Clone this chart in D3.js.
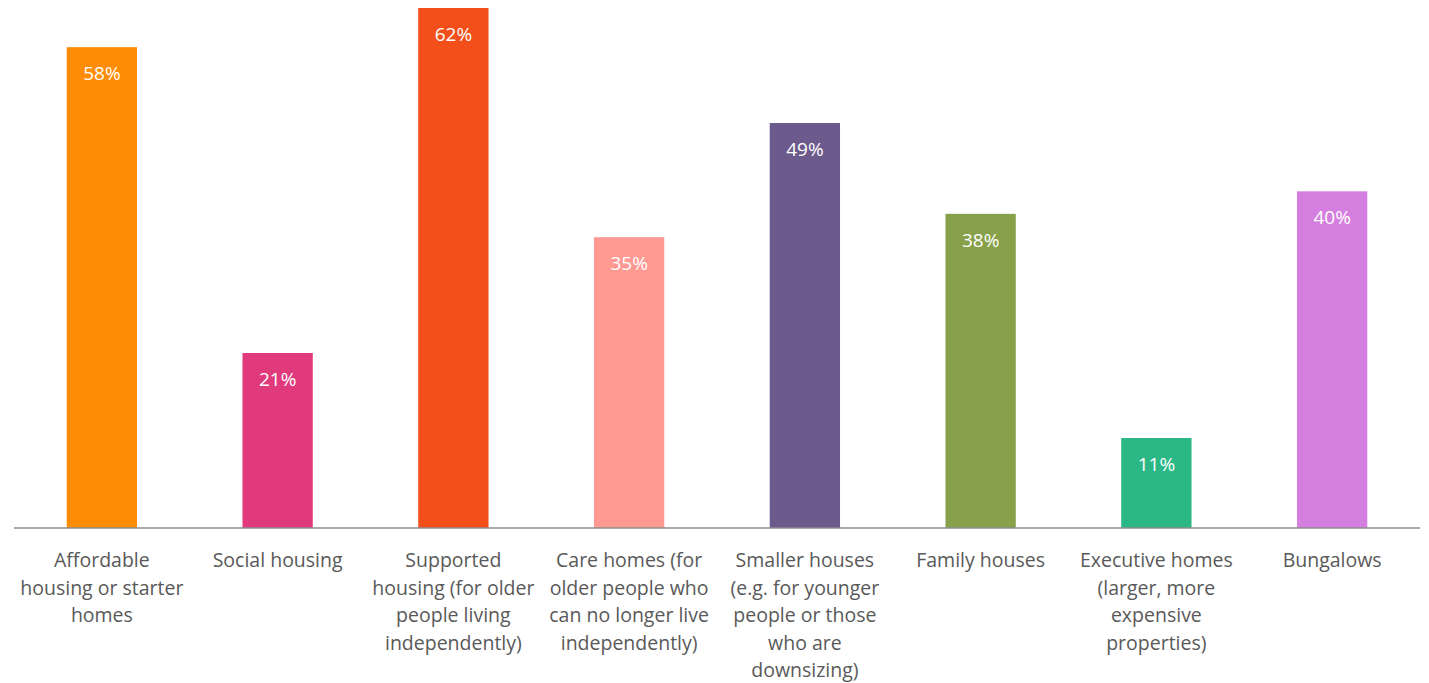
<!DOCTYPE html>
<html>
<head>
<meta charset="utf-8">
<script src="https://cdn.jsdelivr.net/npm/d3@7"></script>
<style>
  html, body { margin: 0; padding: 0; background: #fff; }
</style>
</head>
<body>
<div id="chart"></div>
<script>
// Data.
const categories = [
  "Affordable housing or starter homes",
  "Social housing",
  "Supported housing (for older people living independently)",
  "Care homes (for older people who can no longer live independently)",
  "Smaller houses (e.g. for younger people or those who are downsizing)",
  "Family houses",
  "Executive homes (larger, more expensive properties)",
  "Bungalows",
];
const values = [57.7, 21.0, 62.4, 34.9, 48.6, 37.7, 10.8, 40.4];
const valueLabels = ["58%", "21%", "62%", "35%", "49%", "38%", "11%", "40%"];
// Manual line breaks, as in the original labels.
const categoryLines = [
  ["Affordable", "housing or starter", "homes"],
  ["Social housing"],
  ["Supported", "housing (for older", "people living", "independently)"],
  ["Care homes (for", "older people who", "can no longer live", "independently)"],
  ["Smaller houses", "(e.g. for younger", "people or those", "who are", "downsizing)"],
  ["Family houses"],
  ["Executive homes", "(larger, more", "expensive", "properties)"],
  ["Bungalows"],
];
const colors = ["#FF8C05", "#E03A7D", "#F24F1A", "#FF9A93", "#6D5A8C", "#87A14A", "#2BB886", "#D47FE0"];

const width = 1429;
const height = 683;
const margin = { top: 8, right: 9, bottom: 155, left: 14 };

const svg = d3.select("#chart")
  .append("svg")
  .attr("width", width)
  .attr("height", height);

// Scales.
const x = d3.scaleBand()
  .domain(categories)
  .range([margin.left, width - margin.right])
  .paddingInner(0.6)
  .paddingOuter(0.3);

const baseline = height - margin.bottom;
const y = d3.scaleLinear()
  .domain([0, 62.4])
  .range([baseline, margin.top]);

// Bars.
svg.append("g")
  .selectAll("rect")
  .data(values)
  .join("rect")
  .attr("x", (d, i) => x(categories[i]))
  .attr("y", (d) => y(d))
  .attr("width", x.bandwidth())
  .attr("height", (d) => baseline - y(d))
  .attr("fill", (d, i) => colors[i]);

// Value labels inside the bars.
svg.append("g")
  .selectAll("text")
  .data(values)
  .join("text")
  .attr("x", (d, i) => x(categories[i]) + x.bandwidth() / 2)
  .attr("y", (d) => y(d) + 33)
  .attr("text-anchor", "middle")
  .attr("font-family", "'Open Sans', sans-serif")
  .attr("font-size", 19)
  .attr("fill", "#ffffff")
  .text((d, i) => valueLabels[i]);

// Axis line.
const xAxis = d3.axisBottom(x).tickSize(0).tickFormat("");
const axisG = svg.append("g")
  .attr("transform", `translate(0,${baseline})`)
  .call(xAxis);
axisG.select(".domain")
  .attr("stroke", "#8c8c8c")
  .attr("stroke-width", 1.5)
  .attr("d", `M${margin.left},0H${width - margin.right}`);

// Category labels, wrapped.
const labels = svg.append("g")
  .selectAll("text")
  .data(categories)
  .join("text")
  .attr("text-anchor", "middle")
  .attr("font-family", "'Open Sans', sans-serif")
  .attr("font-size", 19.5)
  .attr("fill", "#595959");

labels.each(function (d, i) {
  const cx = x(d) + x.bandwidth() / 2;
  d3.select(this)
    .selectAll("tspan")
    .data(categoryLines[i])
    .join("tspan")
    .attr("x", cx)
    .attr("y", (line, j) => baseline + 39 + j * 27.6)
    .text((line) => line);
});
</script>
</body>
</html>
